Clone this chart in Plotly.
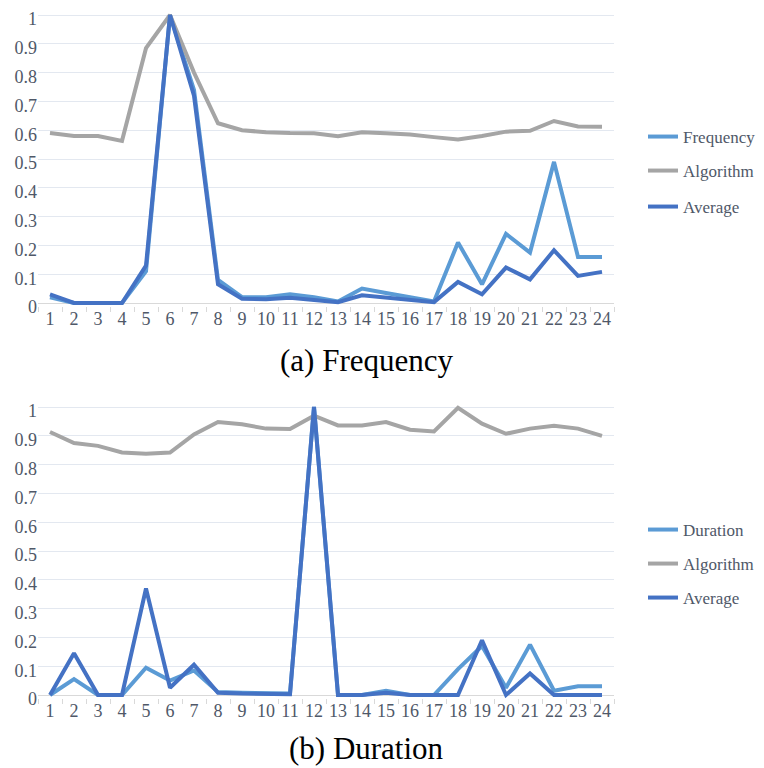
import plotly.graph_objects as go

hours = [str(i) for i in range(1, 25)]

freq_frequency = [0.02, 0.0, 0.0, 0.0, 0.11, 1.0, 0.74, 0.08, 0.02, 0.02, 0.03, 0.02,
                  0.005, 0.05, 0.035, 0.02, 0.005, 0.21, 0.065, 0.24, 0.175, 0.49, 0.16, 0.16]
freq_algorithm = [0.59, 0.58, 0.58, 0.563, 0.885, 1.0, 0.80, 0.624, 0.60, 0.593, 0.59, 0.589,
                  0.579, 0.593, 0.589, 0.585, 0.576, 0.568, 0.58, 0.595, 0.598, 0.632, 0.613, 0.612]
freq_average = [0.03, 0.0, 0.0, 0.0, 0.13, 1.0, 0.72, 0.065, 0.015, 0.013, 0.018, 0.01,
                0.003, 0.027, 0.02, 0.01, 0.003, 0.073, 0.03, 0.123, 0.082, 0.183, 0.094, 0.108]

dur_duration = [0.0, 0.055, 0.0, 0.0, 0.095, 0.05, 0.085, 0.01, 0.008, 0.008, 0.005, 1.0,
                0.0, 0.0, 0.015, 0.0, 0.0, 0.09, 0.17, 0.025, 0.175, 0.015, 0.03, 0.03]
dur_algorithm = [0.913, 0.875, 0.865, 0.842, 0.838, 0.842, 0.905, 0.948, 0.94, 0.925, 0.924, 0.97,
                 0.936, 0.936, 0.948, 0.921, 0.915, 0.997, 0.942, 0.907, 0.925, 0.935, 0.925, 0.9]
dur_average = [0.0, 0.145, 0.0, 0.0, 0.37, 0.025, 0.105, 0.008, 0.005, 0.005, 0.003, 1.0,
               0.0, 0.0, 0.008, 0.0, 0.0, 0.0, 0.19, 0.0, 0.075, 0.0, 0.0, 0.0]

yticks = [0, 0.1, 0.2, 0.3, 0.4, 0.5, 0.6, 0.7, 0.8, 0.9, 1]
yticktext = ["0", "0.1", "0.2", "0.3", "0.4", "0.5", "0.6", "0.7", "0.8", "0.9", "1"]

C_LIGHT = "#5B9BD5"
C_GRAY = "#A5A5A5"
C_DARK = "#4472C4"
FONT = "Liberation Serif, Times New Roman, serif"
TXT = "#4f5868"
LW = 4

# page body has an 8px default margin; size the figure to the visible area
OFF = 8
W, H = 764 - OFF, 768 - OFF

fig = go.Figure()

def add(x, y, name, color, xa, ya, legend):
    fig.add_trace(go.Scatter(x=x, y=y, name=name, mode="lines",
                             line=dict(color=color, width=LW),
                             xaxis=xa, yaxis=ya, legend=legend))

add(hours, freq_frequency, "Frequency", C_LIGHT, "x", "y", "legend")
add(hours, freq_algorithm, "Algorithm", C_GRAY, "x", "y", "legend2")
add(hours, freq_average, "Average", C_DARK, "x", "y", "legend3")
add(hours, dur_duration, "Duration", C_LIGHT, "x2", "y2", "legend4")
add(hours, dur_algorithm, "Algorithm", C_GRAY, "x2", "y2", "legend5")
add(hours, dur_average, "Average", C_DARK, "x2", "y2", "legend6")

def py(p):
    return 1 - (p - OFF) / H

def px(p):
    return (p - OFF) / W

pad = 0.012
x_dom = [px(38), px(614)]
top_dom = [py(303 + 288 * pad), py(15 - 288 * pad)]
bot_dom = [py(695 + 288 * pad), py(407 - 288 * pad)]

xcommon = dict(type="category", range=[-0.5, 23.5], showgrid=False,
               showline=False, ticks="outside", tickson="boundaries",
               ticklen=5, tickcolor="#d9d9d9", tickangle=0, automargin=False,
               ticklabeloverflow="allow",
               tickfont=dict(family=FONT, size=18, color=TXT),
               fixedrange=True, domain=x_dom)
ycommon = dict(range=[-pad, 1 + pad], tickvals=yticks, ticktext=yticktext,
               showgrid=True, gridcolor="#e3e8f0", gridwidth=1,
               zeroline=True, zerolinecolor="#d9d9d9", zerolinewidth=1,
               showline=False, ticks="", automargin=False,
               ticklabeloverflow="allow", ticklabelshift=4,
               tickfont=dict(family=FONT, size=18, color=TXT), fixedrange=True)

legfont = dict(family=FONT, size=17, color=TXT)

def leg(ypix):
    return dict(x=px(643), y=py(ypix), xanchor="left", yanchor="middle",
                font=legfont, bgcolor="rgba(0,0,0,0)", borderwidth=0,
                itemwidth=30)

fig.update_layout(
    template="none",
    width=W, height=H,
    margin=dict(l=0, r=0, t=0, b=0, autoexpand=False),
    paper_bgcolor="white", plot_bgcolor="white",
    font=dict(family=FONT),
    xaxis=dict(anchor="y", **xcommon),
    yaxis=dict(anchor="x", domain=top_dom, **ycommon),
    xaxis2=dict(anchor="y2", **xcommon),
    yaxis2=dict(anchor="x2", domain=bot_dom, **ycommon),
    legend=leg(137), legend2=leg(171), legend3=leg(207),
    legend4=leg(530), legend5=leg(564), legend6=leg(598),
    annotations=[
        dict(text="(a) Frequency", x=px(366), y=py(360), xref="paper", yref="paper",
             xanchor="center", yanchor="middle", showarrow=False,
             font=dict(family=FONT, size=31, color="#000000")),
        dict(text="(b) Duration", x=px(366), y=py(748), xref="paper", yref="paper",
             xanchor="center", yanchor="middle", showarrow=False,
             font=dict(family=FONT, size=31, color="#000000")),
    ],
    showlegend=True,
)

fig.write_html("out.html")
